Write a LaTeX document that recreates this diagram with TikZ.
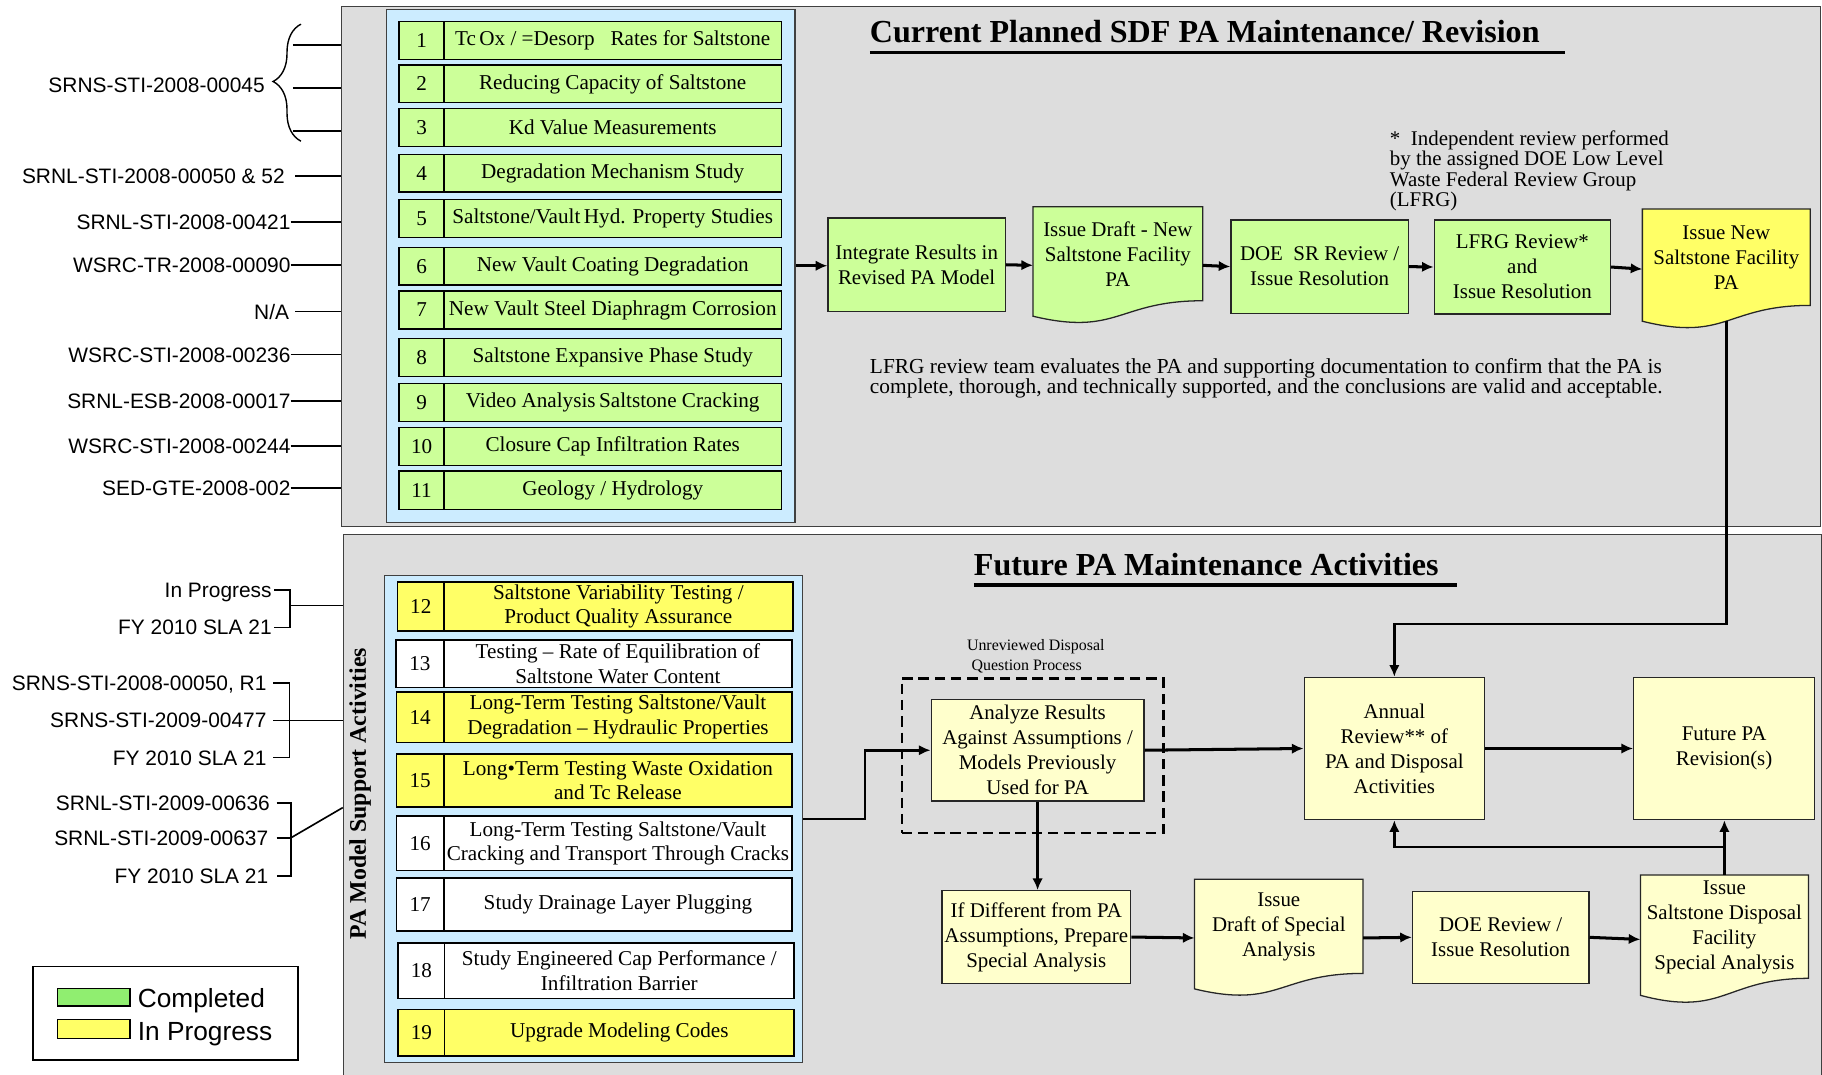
\documentclass[tikz,border=0pt]{standalone}
\usepackage{fontspec}
\setmainfont{Liberation Serif}
\newfontfamily\arialfont{Liberation Sans}
\usetikzlibrary{calc,arrows.meta,decorations.pathreplacing}
\pgfdeclarelayer{panels}
\pgfdeclarelayer{docs}
\pgfsetlayers{panels,docs,main}

\definecolor{panelgray}{HTML}{DDDDDD}
\definecolor{paleblue}{HTML}{CCECFF}
\definecolor{limegreen}{HTML}{CCFF99}
\definecolor{brightyellow}{HTML}{FFFF66}
\definecolor{creamyellow}{HTML}{FFFFCC}
\definecolor{legendgreen}{HTML}{90EE70}

\tikzset{
  panel/.style={draw=black!75, line width=0.9pt, fill=panelgray, anchor=north west, inner sep=0pt},
  listframe/.style={draw=black!75, line width=1pt, fill=paleblue, anchor=north west, inner sep=0pt},
  cell/.style={draw=black, line width=1.3pt, anchor=north west, inner sep=0pt, align=center,
    font=\fontsize{18.2}{21}\selectfont},
  flowbox/.style={draw=black!85, line width=1.1pt, anchor=north west, inner sep=0pt, align=center,
    font=\fontsize{18}{21.5}\selectfont},
  doctext/.style={align=center, inner sep=0pt, font=\fontsize{18}{21.5}\selectfont},
  docline/.style={draw=black!85, line width=1.1pt},
  reflabel/.style={font=\arialfont\fontsize{18}{20}\selectfont, inner sep=0pt, anchor=east,
    text height=12.9pt, text depth=0pt},
  refline/.style={line width=1.4pt},
  flowarrow/.style={line width=2.6pt, -{Latex[length=10pt,width=9pt]}},
  flowthin/.style={line width=2.2pt, -{Latex[length=10pt,width=9pt]}},
  heading/.style={font=\bfseries\fontsize{27.6}{30}\selectfont, inner sep=0pt, anchor=west,
    text height=18.2pt, text depth=0pt},
  legendtext/.style={font=\arialfont\fontsize{22.6}{24}\selectfont, inner sep=0pt, anchor=west,
    text height=16.2pt, text depth=0pt},
}

% one numbered row of an activity list: number cell + description cell
\newcommand\listrow[9]{%
  \node[cell, fill=#7, minimum width={#3-#2}, minimum height={#6-#5}] (#1n) at (#2,#5) {#8};
  \node[cell, fill=#7, minimum width={#4-#3}, minimum height={#6-#5}] (#1) at (#3,#5) {#9};
}

% flowchart "document" box with a wavy lower edge
\newcommand\docshape[7]{%
  \node[inner sep=0pt, anchor=north west, minimum width=#4, minimum height=#5] (#1) at (#2,#3) {};
  \begin{pgfonlayer}{docs}
    \path[docline, fill=#6] (#1.north west) -- (#1.north east)
      -- ($(#1.north east)!0.802!(#1.south east)$)
      .. controls ($(#1.north)!0.802!(#1.south)$) and ($(#1.north)!1.107!(#1.south)$)
      .. ($(#1.north west)!0.934!(#1.south west)$) -- cycle;
  \end{pgfonlayer}
  \node[doctext] (#1-text) at ($(#1.north)!0.405!(#1.south)$) {#7};
}

\begin{document}
\begin{tikzpicture}[x=1pt, y=-1pt]
\useasboundingbox (0,0) rectangle (1568,925);

% ---------- panels and list frames ----------
\begin{pgfonlayer}{panels}
  \node[panel, minimum width=1273.3, minimum height=447.2] (toppanel) at (293.2,5.3) {};
  \node[panel, minimum width=1272, minimum height=475] (botpanel) at (295,459.3) {};
  \node[listframe, minimum width=351.6, minimum height=441.6] (toplist) at (332,7.4) {};
  \node[listframe, minimum width=359.6, minimum height=419] (botlist) at (330.3,495) {};
\end{pgfonlayer}

% ---------- completed studies 1-11 ----------
\listrow{r1}{342.8}{381.5}{671.8}{17.8}{50.4}{limegreen}{1}{Tc\,Ox / =Desorp\hspace{0.5em} Rates for Saltstone}
\listrow{r2}{342.8}{381.5}{671.8}{55.4}{87.7}{limegreen}{2}{Reducing Capacity of Saltstone}
\listrow{r3}{342.8}{381.5}{671.8}{92.8}{125.6}{limegreen}{3}{Kd Value Measurements}
\listrow{r4}{342.8}{381.5}{671.8}{132.5}{164.5}{limegreen}{4}{Degradation Mechanism Study}
\listrow{r5}{342.8}{381.5}{671.8}{171}{203.9}{limegreen}{5}{Saltstone/Vault\,Hyd. Property Studies}
\listrow{r6}{342.8}{381.5}{671.8}{212.2}{244.8}{limegreen}{6}{New Vault Coating Degradation}
\listrow{r7}{342.8}{381.5}{671.8}{249.8}{282.4}{limegreen}{7}{New Vault Steel Diaphragm Corrosion}
\listrow{r8}{342.8}{381.5}{671.8}{290.7}{323.3}{limegreen}{8}{Saltstone Expansive Phase Study}
\listrow{r9}{342.8}{381.5}{671.8}{329.5}{362.2}{limegreen}{9}{Video Analysis\,Saltstone Cracking}
\listrow{r10}{342.8}{381.5}{671.8}{367.2}{399.8}{limegreen}{10}{Closure Cap Infiltration Rates}
\listrow{r11}{342.8}{381.5}{671.8}{404.8}{437.7}{limegreen}{11}{Geology / Hydrology}

% ---------- support activities 12-19 ----------
\listrow{r12}{341.4}{381.5}{681.6}{500}{542.2}{brightyellow}{12}{Saltstone Variability Testing /\\Product Quality Assurance}
\listrow{r13}{340}{381.5}{680.8}{550.2}{591}{white}{13}{Testing -- Rate of Equilibration of\\Saltstone Water Content}
\listrow{r14}{340.5}{381.5}{680.8}{594.7}{638.3}{brightyellow}{14}{Long-Term Testing Saltstone/Vault\\Degradation -- Hydraulic Properties}
\listrow{r15}{340.5}{381.5}{680.8}{648.3}{693.7}{brightyellow}{15}{Long•Term Testing Waste Oxidation\\and Tc Release}
\listrow{r16}{340.5}{381.5}{680.8}{701.7}{748.7}{white}{16}{Long-Term Testing Saltstone/Vault\\Cracking and Transport Through Cracks}
\listrow{r17}{340.5}{381.5}{680.8}{755}{800.4}{white}{17}{Study Drainage Layer Plugging}
\listrow{r18}{342}{382}{682.7}{810.7}{858.6}{white}{18}{Study Engineered Cap Performance /\\Infiltration Barrier}
\listrow{r19}{342}{382}{682.7}{868}{908}{brightyellow}{19}{Upgrade Modeling Codes}

\node[rotate=90, font=\bfseries\fontsize{20.5}{22}\selectfont, inner sep=0pt] (sidelabel) at (310,683) {PA Model Support Activities};

% ---------- headings ----------
\node[heading] (title1) at (748.5,27.3) {Current Planned SDF PA Maintenance/ Revision};
\draw[line width=3pt] (748.5,45.3) -- (1346.6,45.3);
\node[heading] (title2) at (838,486) {Future PA Maintenance Activities};
\draw[line width=3pt] (838,503.5) -- (1254,503.5);

% ---------- current revision flow ----------
\node[flowbox, fill=limegreen, minimum width=152.6, minimum height=80.6] (integ) at (712,187) {Integrate Results in\\Revised PA Model};
\docshape{draftpa}{889}{177.9}{145.7}{100.5}{limegreen}{Issue Draft - New\\Saltstone Facility\\PA}
\node[flowbox, fill=limegreen, minimum width=152.6, minimum height=80.2] (doesr) at (1058.8,188.8) {DOE\enspace SR Review /\\Issue Resolution};
\node[flowbox, fill=limegreen, minimum width=151.5, minimum height=80.9] (lfrg) at (1233.8,188.8) {LFRG Review*\\and\\Issue Resolution};
\docshape{newpa}{1413.4}{179.9}{144.1}{103}{brightyellow}{Issue New\\Saltstone Facility\\PA}

\draw[flowarrow] (toplist.east) -- (toplist.east -| integ.west);
\draw[flowarrow] (integ.east) -- (draftpa.west);
\draw[flowarrow] (draftpa.east) -- (doesr.west);
\draw[flowarrow] (doesr.east) -- (lfrg.west);
\draw[flowarrow] (lfrg.east) -- (newpa.west);

\node[anchor=north west, align=left, inner sep=0pt, font=\fontsize{18}{17.7}\selectfont] (footnote) at (1196,112)
  {*\enspace Independent review performed\\by the assigned DOE Low Level\\Waste Federal Review Group\\(LFRG)};
\node[anchor=north west, align=left, inner sep=0pt, font=\fontsize{18.4}{17.4}\selectfont] (lfrgnote) at (748.5,308.5)
  {LFRG review team evaluates the PA and supporting documentation to confirm that the PA is\\
   complete, thorough, and technically supported, and the conclusions are valid and acceptable.};

% ---------- future maintenance flow ----------
\node[draw, dashed, dash pattern=on 9pt off 5pt, line width=1.8pt, anchor=north west, inner sep=0pt,
  minimum width=225.4, minimum height=132.7] (udqbox) at (775,583) {};
\node[anchor=west, align=left, inner sep=0pt, font=\fontsize{13.7}{17}\selectfont] (udqlabel) at (832,565)
  {Unreviewed Disposal\\\hspace{4pt}Question Process};

\node[flowbox, fill=creamyellow, minimum width=183.2, minimum height=87.2] (analyze) at (800.8,601.5)
  {Analyze Results\\Against Assumptions /\\Models Previously\\Used for PA};
\node[flowbox, fill=creamyellow, minimum width=155.2, minimum height=122.4] (annual) at (1121.8,582.4)
  {Annual\\Review** of\\PA and Disposal\\Activities};
\node[flowbox, fill=creamyellow, minimum width=155.6, minimum height=122.4] (future) at (1405.4,582.4)
  {Future PA\\Revision(s)};
\node[flowbox, fill=creamyellow, minimum width=162.5, minimum height=79.7] (ifdiff) at (810,766)
  {If Different from PA\\Assumptions, Prepare\\Special Analysis};
\docshape{draftsa}{1028}{756.7}{144.6}{100.6}{creamyellow}{Issue\\Draft of Special\\Analysis}
\node[flowbox, fill=creamyellow, minimum width=151.8, minimum height=79.2] (doerev) at (1215,766.5)
  {DOE Review /\\Issue Resolution};
\docshape{issuesa}{1411.7}{753}{144.2}{110.5}{creamyellow}{Issue\\Saltstone Disposal\\Facility\\Special Analysis}

\coordinate (newpafoot) at ($(newpa.north)!0.933!(newpa.south)$);
\draw[flowthin] (newpafoot) -- (newpafoot |- 0,537) -| (annual.north);
\draw[flowthin] (botlist.east) -- (botlist.east -| 744.4,0) |- (analyze.west);
\draw[flowarrow] (analyze.east) -- (annual.west);
\draw[flowarrow] (annual.east) -- (future.west);
\draw[flowthin] (analyze.south) -- (analyze.south |- ifdiff.north);
\draw[flowarrow] (ifdiff.east) -- (draftsa.west);
\draw[flowarrow] (draftsa.east) -- (doerev.west);
\draw[flowarrow] (doerev.east) -- (issuesa.west);
\draw[flowthin] (issuesa.north) -- (issuesa.north |- future.south);
\coordinate (fbjoin) at (issuesa.north |- 0,729);
\draw[flowthin] (fbjoin) -| (annual.south);

% ---------- report references, completed studies ----------
\node[reflabel] (ref0) at (228,73) {SRNS-STI-2008-00045};
\draw[line width=1.2pt, decorate, decoration={brace, amplitude=24pt, aspect=0.51}] (259,121.5) -- (259,20.8);
\coordinate (bt1) at (252,38.5);
\coordinate (bt2) at (252,76);
\coordinate (bt3) at (252,112.6);
\foreach \c in {bt1,bt2,bt3} \draw[refline] (\c) -- (\c -| toppanel.west);

\node[reflabel] (ref4) at (245.3,151.7) {SRNL-STI-2008-00050 \& 52};
\node[reflabel] (ref5) at (250.2,191) {SRNL-STI-2008-00421};
\node[reflabel] (ref6) at (250.2,228.2) {WSRC-TR-2008-00090};
\node[reflabel] (ref7) at (249,268.2) {N/A};
\node[reflabel] (ref8) at (250.2,305.2) {WSRC-STI-2008-00236};
\node[reflabel] (ref9) at (250.2,345.2) {SRNL-ESB-2008-00017};
\node[reflabel] (ref10) at (250.2,383.8) {WSRC-STI-2008-00244};
\node[reflabel] (ref11) at (250.2,420.2) {SED-GTE-2008-002};
\draw[refline] (ref4.east) ++(9,0) -- (ref4.east -| toppanel.west);
\draw[refline] (ref7.east) ++(5,0) -- (ref7.east -| toppanel.west);
\foreach \r in {ref5,ref6,ref8,ref9,ref10,ref11} \draw[refline] (\r.east) -- (\r.east -| toppanel.west);

% ---------- report references, support activities ----------
\node[reflabel] (refA1) at (234,507.6) {In Progress};
\node[reflabel] (refA2) at (234,539.9) {FY 2010 SLA 21};
\draw[refline] ($(refA1.east)+(2,0)$) -- (249.6,507.6) -- (249.6,539.9) -- ($(refA2.east)+(2,0)$);
\coordinate (jA) at (249.6,521);
\draw[refline] (jA) -- (jA -| botpanel.west);

\node[reflabel] (refB1) at (229.5,587.8) {SRNS-STI-2008-00050, R1};
\node[reflabel] (refB2) at (229.5,620) {SRNS-STI-2009-00477};
\node[reflabel] (refB3) at (229.5,652) {FY 2010 SLA 21};
\draw[refline] (235,587.8) -- (249,587.8) -- (249,652) -- (235,652);
\draw[refline] (235,620) -- (249,620);
\coordinate (jB) at (249,620);
\draw[refline] (jB) -- (jB -| botpanel.west);

\node[reflabel] (refC1) at (232.4,691) {SRNL-STI-2009-00636};
\node[reflabel] (refC2) at (231,721) {SRNL-STI-2009-00637};
\node[reflabel] (refC3) at (231,753.7) {FY 2010 SLA 21};
\draw[refline] (238,691) -- (250.4,691) -- (250.4,753.7) -- (238,753.7);
\draw[refline] (238,721) -- (250.4,721);
\coordinate (jC) at (250.4,721);
\draw[refline] (jC) -- (botpanel.west |- 0,695);

% ---------- legend ----------
\node[draw, line width=1.5pt, fill=white, anchor=north west, inner sep=0pt,
  minimum width=228.2, minimum height=80.7] (legend) at (27.8,831) {};
\node[draw, line width=1.2pt, fill=legendgreen, anchor=north west, inner sep=0pt,
  minimum width=62.5, minimum height=15] (swgreen) at (48.8,850) {};
\node[draw, line width=1.2pt, fill=brightyellow, anchor=north west, inner sep=0pt,
  minimum width=62.5, minimum height=16] (swyellow) at (48.8,877) {};
\node[legendtext] (lgdone) at (118.5,859) {Completed};
\node[legendtext] (lgdprog) at (118.5,887) {In Progress};
\end{tikzpicture}
\end{document}
